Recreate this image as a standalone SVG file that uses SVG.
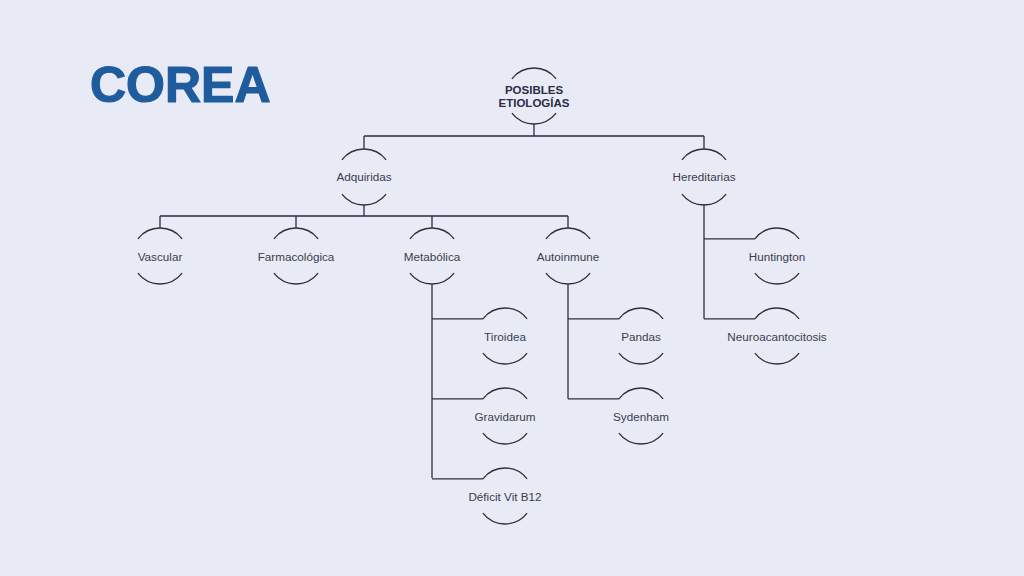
<svg xmlns="http://www.w3.org/2000/svg" width="1024" height="576" viewBox="0 0 1024 576">
<style>
.arc{fill:none;stroke:#2b2d45;stroke-width:1.3}
.ln{fill:none;stroke:#2b2d45;stroke-width:1.3}
.lbl{font-family:"Liberation Sans",Arial,sans-serif;font-size:11.7px;fill:#3a3c52;text-anchor:middle;dominant-baseline:central}
.root{font-family:"Liberation Sans",Arial,sans-serif;font-size:11.5px;font-weight:bold;fill:#2b2d45;text-anchor:middle}
</style>
<defs>
<g id="ring">
<path class="arc" d="M-22.1,-17.2 A28,28 0 0 1 22.1,-17.2"/>
<path class="arc" d="M-22.1,17.2 A28,28 0 0 0 22.1,17.2"/>
</g>
</defs>
<rect width="1024" height="576" fill="#e8ebf5"/>
<text x="90" y="102" font-family="Liberation Sans,Arial,sans-serif" font-weight="bold" font-size="50" fill="#1f5c9e" stroke="#1f5c9e" stroke-width="1.2" stroke-linejoin="round">COREA</text>
<g id="connectors">
<path class="ln" d="M534,124V136M364,136H704M364,136V149M704,136V149"/>
<path class="ln" d="M364,205V216M160,216H568M160,216V228M296,216V228M432,216V228M568,216V228"/>
<path class="ln" d="M432,284V478M432,318.8H483M432,398.8H483M432,478.8H483"/>
<path class="ln" d="M568,284V398.8M568,318.8H619M568,398.8H619"/>
<path class="ln" d="M704,204V318.8M704,238.8H755M704,318.8H755"/>
</g>
<g id="n-root"><use href="#ring" x="534" y="96"/><text class="root" x="534" y="94">POSIBLES</text><text class="root" x="534" y="107">ETIOLOGÍAS</text></g>
<g id="n-adquiridas"><use href="#ring" x="364" y="177"/><text class="lbl" x="364" y="176">Adquiridas</text></g>
<g id="n-hereditarias"><use href="#ring" x="704" y="177"/><text class="lbl" x="704" y="176">Hereditarias</text></g>
<g id="n-vascular"><use href="#ring" x="160" y="256"/><text class="lbl" x="160" y="256">Vascular</text></g>
<g id="n-farmacologica"><use href="#ring" x="296" y="256"/><text class="lbl" x="296" y="256">Farmacológica</text></g>
<g id="n-metabolica"><use href="#ring" x="432" y="256"/><text class="lbl" x="432" y="256">Metabólica</text></g>
<g id="n-autoinmune"><use href="#ring" x="568" y="256"/><text class="lbl" x="568" y="256">Autoinmune</text></g>
<g id="n-huntington"><use href="#ring" x="777" y="256"/><text class="lbl" x="777" y="256">Huntington</text></g>
<g id="n-neuro"><use href="#ring" x="777" y="336"/><text class="lbl" x="777" y="336">Neuroacantocitosis</text></g>
<g id="n-tiroidea"><use href="#ring" x="505" y="336"/><text class="lbl" x="505" y="336">Tiroidea</text></g>
<g id="n-gravidarum"><use href="#ring" x="505" y="416"/><text class="lbl" x="505" y="416">Gravidarum</text></g>
<g id="n-b12"><use href="#ring" x="505" y="496"/><text class="lbl" x="505" y="496">Déficit Vit B12</text></g>
<g id="n-pandas"><use href="#ring" x="641" y="336"/><text class="lbl" x="641" y="336">Pandas</text></g>
<g id="n-sydenham"><use href="#ring" x="641" y="416"/><text class="lbl" x="641" y="416">Sydenham</text></g>
</svg>
